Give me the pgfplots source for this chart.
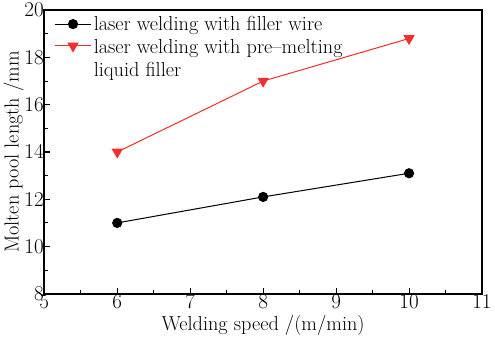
\documentclass[border=0pt]{standalone}
\usepackage{pgfplots}
\pgfplotsset{compat=1.18}
\definecolor{myred}{RGB}{245,45,45}
\begin{document}
\begin{tikzpicture}
\begin{axis}[
  scale only axis,
  width=432pt, height=280pt,
  xmin=5, xmax=11, ymin=8, ymax=20,
  xtick={5,6,...,11}, ytick={8,10,...,20},
  minor x tick num=1, minor y tick num=1,
  xtick pos=left, ytick pos=left,
  tick align=inside,
  major tick length=6pt, minor tick length=3.5pt,
  every tick/.style={black, line width=1pt},
  axis line style={line width=1.6pt},
  tick label style={font=\fontsize{20}{22}\selectfont},
  label style={font=\fontsize{20}{22}\selectfont},
  xticklabel style={yshift=2pt},
  yticklabel style={xshift=3pt},
  xlabel={Welding speed /(m/min)},
  ylabel={Molten pool length /mm},
  xlabel style={yshift=1pt},
  ylabel style={yshift=-6pt},
  legend style={draw=none, fill=none, at={(0.02,0.99)}, anchor=north west,
    font=\fontsize{20}{23}\selectfont, row sep=1pt,
    legend cell align=left, inner sep=1pt},
  legend image code/.code={\draw[mark repeat=2,mark phase=2,#1] plot coordinates {(0pt,0pt)(18pt,0pt)(36pt,0pt)};},
]
\addplot[black, line width=1pt, mark=*, mark size=4.5pt] coordinates {(6,11) (8,12.1) (10,13.1)};
\addlegendentry{laser welding with filler wire}
\addplot[myred, line width=1pt, mark=triangle*, mark options={rotate=180}, mark size=5.5pt] coordinates {(6,14) (8,17) (10,18.8)};
\addlegendentry{\begin{tabular}[t]{@{}l@{}}laser welding with pre--melting\\liquid filler\end{tabular}}
\end{axis}
\end{tikzpicture}
\end{document}
